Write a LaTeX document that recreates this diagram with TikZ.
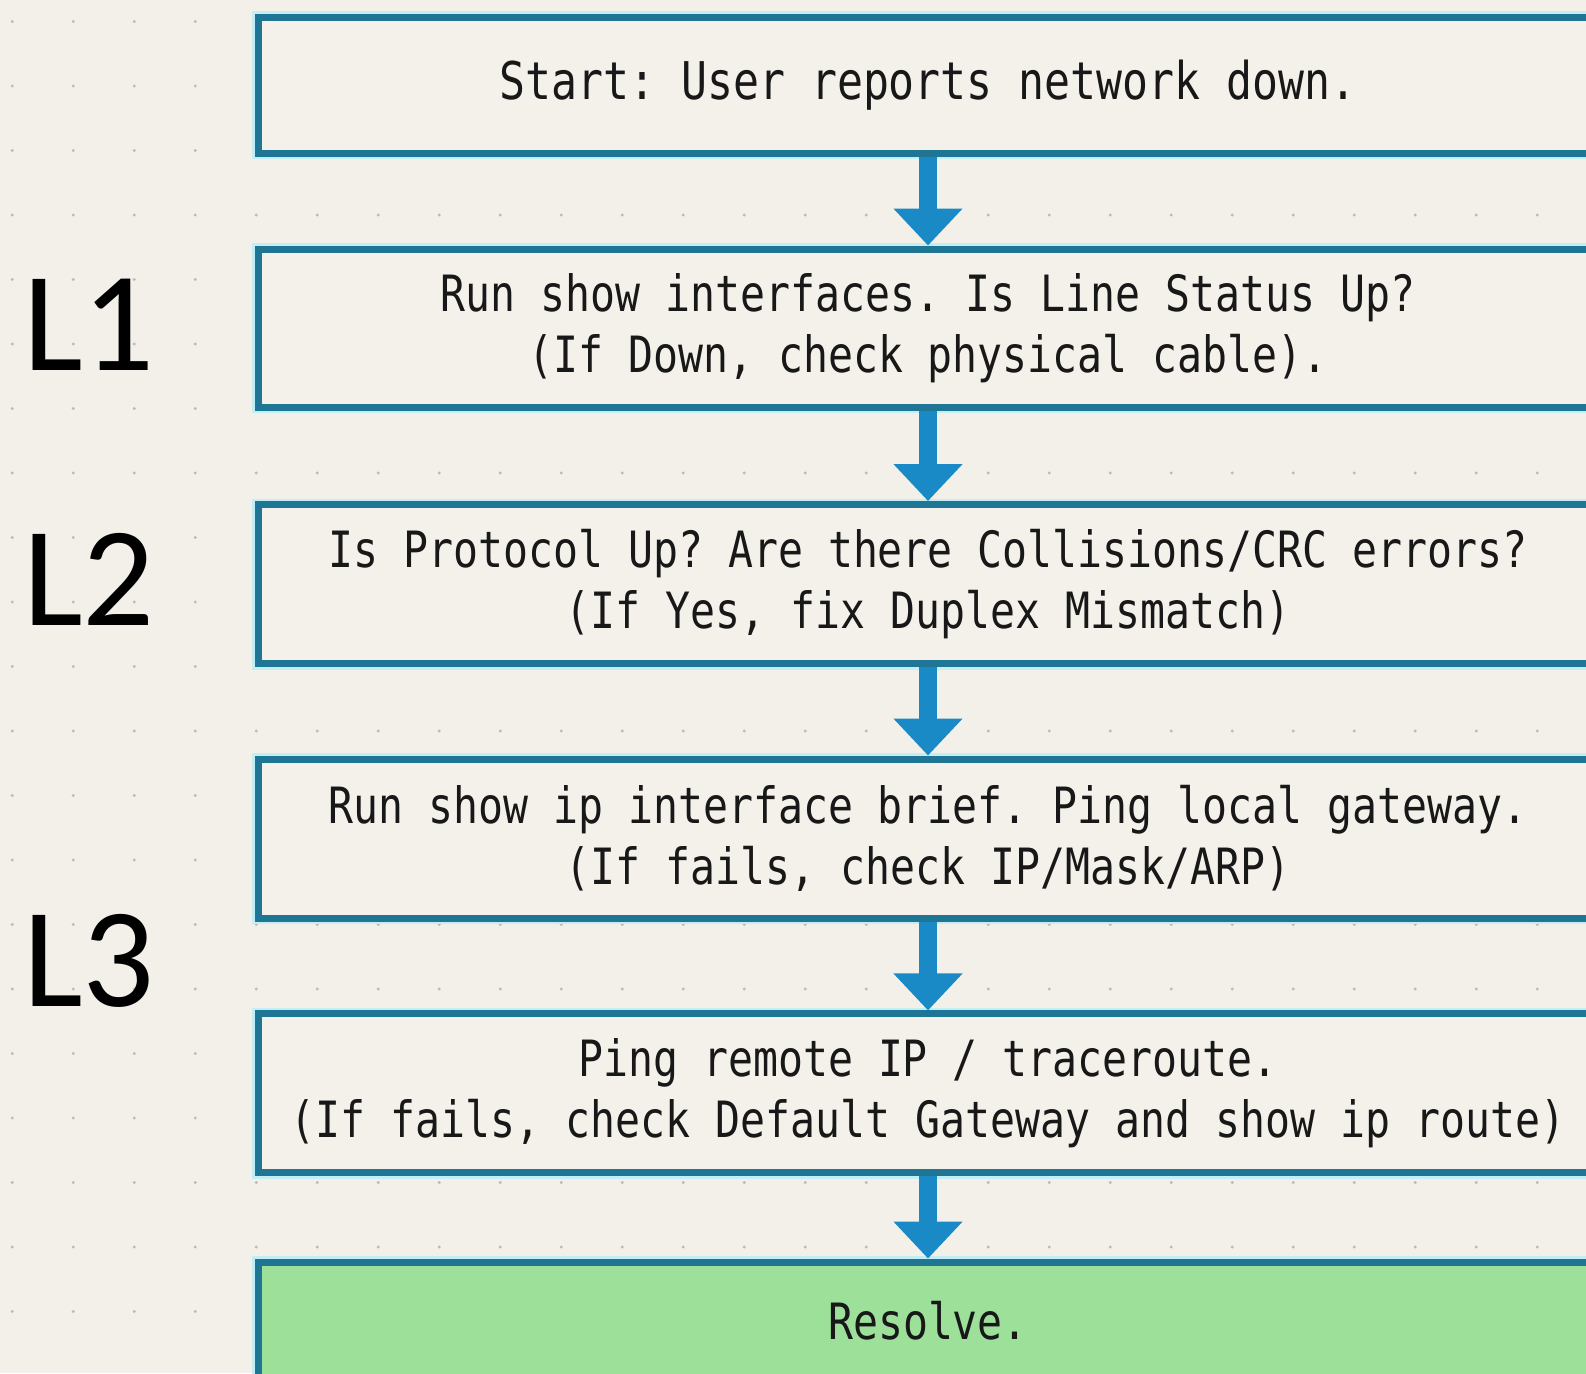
\documentclass[tikz,border=0pt]{standalone}
\usepackage{fontspec}
\usetikzlibrary{arrows.meta}
\newfontfamily\monof[FakeStretch=0.83]{DejaVu Sans Mono}
\newfontfamily\labf{Carlito}
\definecolor{bgc}{RGB}{243,240,234}
\definecolor{boxbg}{RGB}{244,241,235}
\definecolor{bordc}{RGB}{30,118,148}
\definecolor{haloc}{RGB}{196,238,246}
\definecolor{arrc}{RGB}{26,138,198}
\definecolor{dotc}{RGB}{188,186,182}
\definecolor{greenc}{RGB}{157,224,154}
\definecolor{txtc}{RGB}{24,24,24}
\tikzset{
  flowbox/.style={draw=bordc, line width=7pt, fill=boxbg,
    preaction={draw=haloc, line width=12pt},
    minimum width=1340pt, inner sep=0pt, align=center, text=txtc,
    font=\frenchspacing\monof\fontsize{50}{61}\selectfont},
  flowarrow/.style={draw=arrc, line width=18pt,
    -{Triangle[width=67pt,length=37pt]}},
  layerlab/.style={anchor=base west, inner sep=0pt, text=black,
    font=\labf\fontsize{142}{142}\selectfont}
}
\begin{document}
\frenchspacing
\begin{tikzpicture}[x=1pt,y=-1pt]
\useasboundingbox (0,0) rectangle (1586,1373);
\clip (0,0) rectangle (1586,1373);
\fill[bgc] (0,0) rectangle (1586,1373);
\foreach \i in {0,...,25}{
  \foreach \j in {0,...,21}{
    \fill[dotc] ({12.3+61*\i},{21.5+64.5*\j}) circle (1.6pt);
  }
}
\node[flowbox, minimum height=136pt, font=\frenchspacing\monof\fontsize{52}{61}\selectfont] (b1) at (928,85) {Start: User reports network down.};
\node[flowbox, minimum height=158pt] (b2) at (928,328) {Run show interfaces. Is Line Status Up?\\(If Down, check physical cable).};
\node[flowbox, minimum height=159pt] (b3) at (928,584) {Is Protocol Up? Are there Collisions/CRC errors?\\(If Yes, fix Duplex Mismatch)};
\node[flowbox, minimum height=159pt] (b4) at (928,838.5) {Run show ip interface brief. Ping local gateway.\\(If fails, check IP/Mask/ARP)};
\node[flowbox, minimum height=159pt] (b5) at (928,1093.4) {Ping remote IP / traceroute.\\(If fails, check Default Gateway and show ip route)};
\node[flowbox, fill=greenc, minimum height=118pt] (b6) at (928,1321) {Resolve.};
\draw[flowarrow] (b1.south) -- (b2.north);
\draw[flowarrow] (b2.south) -- (b3.north);
\draw[flowarrow] (b3.south) -- (b4.north);
\draw[flowarrow] (b4.south) -- (b5.north);
\draw[flowarrow] (b5.south) -- (b6.north);
\node[layerlab] (l1) at (23,370.5) {L1};
\node[layerlab] (l2) at (23,625) {L2};
\node[layerlab] (l3) at (23,1006) {L3};
\end{tikzpicture}
\end{document}
